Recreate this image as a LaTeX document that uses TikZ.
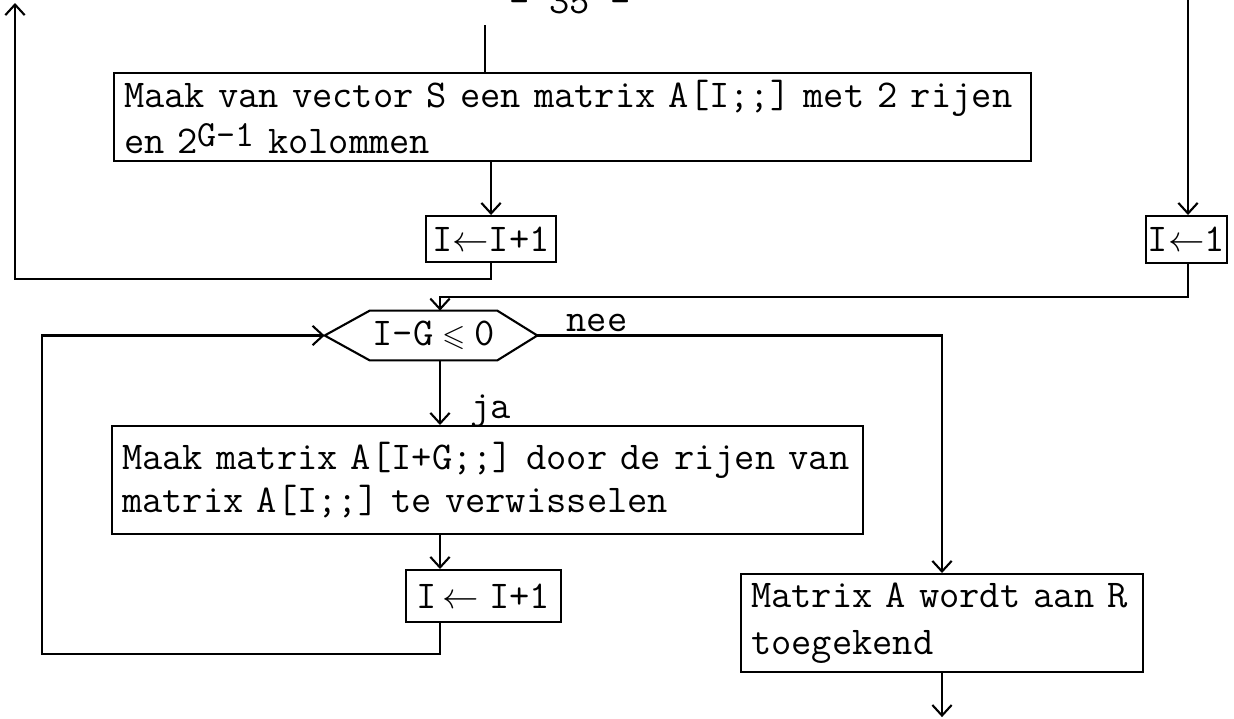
\documentclass[tikz,border=0pt]{standalone}
\usepackage{amssymb}
\usetikzlibrary{arrows.meta,positioning,calc}

\newcommand\flowfontat[1]{\ttfamily\fontsize{22.4}{#1}\selectfont}
\newcommand\flowfont{\flowfontat{24.4}}

\tikzset{
  stepbox/.style={draw, line width=1.2pt, anchor=north west, inner xsep=0.2cm, inner ysep=0pt, font=\flowfont},
  textbox/.style={stepbox, align=left},
  assignbox/.style={stepbox, inner xsep=2pt, align=center},
  flow/.style={line width=1.2pt, -{Straight Barb[length=6pt,width=11pt]}},
  plain/.style={line width=1.2pt},
  lbl/.style={font=\flowfont, inner sep=0pt},
}

\begin{document}
\begin{tikzpicture}[x=0.02cm,y=-0.02cm]
  \useasboundingbox (0,0) rectangle (1234,718);
  % page number, cut off at the top
  \node[lbl, anchor=base] (page) at (570,13) {- 35 -};

  % boxes
  \node[textbox, font={\flowfontat{26}}, minimum height=1.76cm, text width=17.94cm] (init) at (113,72)
    {Maak van vector S een matrix A[I;;] met 2 rijen\\
     en 2\raisebox{4pt}{\fontsize{21}{21}\selectfont G-1} kolommen};
  \node[assignbox, minimum width=2.6cm, minimum height=0.92cm] (incA) at (425,215)
    {I$\leftarrow$I+1};
  \node[assignbox, inner xsep=1pt, minimum width=1.6cm, minimum height=0.94cm] (initI) at (1145,215)
    {I$\leftarrow$1};
  \node[lbl, minimum width=2.54cm, minimum height=0.98cm] (cond) at (433.5,335.5)
    {I-G\hspace{5pt}{\fontsize{17}{17}\selectfont$\leqslant$}\hspace{5pt}0};
  \node[textbox, minimum height=2.16cm, text width=14.62cm] (swap) at (111,425)
    {Maak matrix A[I+G;;] door de rijen van\\
     matrix A[I;;] te verwisselen};
  \node[assignbox, minimum width=3.1cm, minimum height=1.04cm] (incB) at (405,569)
    {I\hspace{3pt}$\leftarrow$\hspace{6pt}I+1};
  \node[textbox, font={\flowfontat{27}}, minimum height=1.96cm, text width=7.64cm] (result) at (740,573)
    {Matrix A wordt aan R\\
     toegekend};

  % decision hexagon
  \coordinate (condE) at ($(cond.east)+(40,0)$);
  \coordinate (condW) at ($(cond.west)+(-45,0)$);
  \draw[plain] (cond.north west) -- (cond.north east) -- (condE) -- (cond.south east)
    -- (cond.south west) -- (condW) -- cycle;

  % labels
  \node[lbl, anchor=base] (nee) at (597,331) {nee};
  \node[lbl, anchor=base west] (ja) at (470,418) {ja};

  % free ends and bends
  \coordinate (topIn) at (485,25);
  \coordinate (retTop) at (15,3);
  \coordinate (rightTop) at (1188,0);
  \coordinate (condIn) at (440,297);
  \coordinate (loopB) at (42,654);
  \coordinate (endOut) at ($(result.south)+(0,44)$);

  % connectors
  \draw[plain] (topIn) -- (topIn |- init.north);
  \draw[flow] (incA.north |- init.south) -- (incA.north);
  \draw[flow] (incA.south) -- ++(0,16) -| (retTop);
  \draw[flow] (rightTop) -- (rightTop |- initI.north);
  \draw[flow] (rightTop |- initI.south) |- (condIn) -- (condIn |- cond.north);
  \draw[flow] (condIn |- cond.south) -- (condIn |- swap.north);
  \draw[flow] (condIn |- swap.south) -- (condIn |- incB.north);
  \draw[flow] (condIn |- incB.south) |- (loopB) |- (condW);
  \draw[flow] (condE) -| (result.north);
  \draw[flow] (result.south) -- (endOut);
\end{tikzpicture}
\end{document}
